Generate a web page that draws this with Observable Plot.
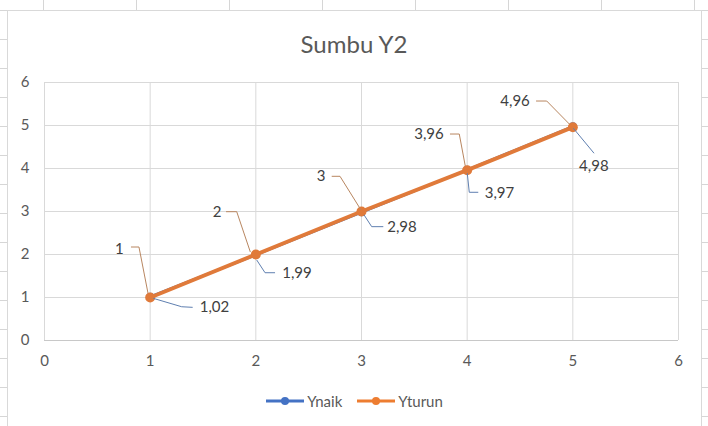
<!DOCTYPE html>
<html>
<head>
<meta charset="utf-8">
<script src="https://cdn.jsdelivr.net/npm/d3@7"></script>
<script src="https://cdn.jsdelivr.net/npm/@observablehq/plot@0.6"></script>
<style>
  html, body { margin: 0; padding: 0; }
  body {
    width: 708px; height: 426px; overflow: hidden; position: relative;
    background-color: #fff;
    background-image:
      linear-gradient(to right, #d6d6d6 1px, transparent 1px),
      linear-gradient(to bottom, #d6d6d6 1px, transparent 1px);
    background-size: 93px 29px;
    background-position: 43px 10px;
    font-family: Lato, "Open Sans", sans-serif;
    color: #595959;
  }
  #chartbox { position: absolute; left: 7px; top: 10px; width: 695px; height: 430px;
    background: #fff; border: 1px solid #d9d9d9; box-sizing: border-box; }
  #title { position: absolute; left: 0; top: 29px; width: 708px; text-align: center;
    font-size: 24px; line-height: 30px; color: #595959; }
  #plot { position: absolute; left: 0; top: 0; }
  #legend { position: absolute; left: 0; top: 391px; width: 708px; display: flex;
    justify-content: center; align-items: center; font-size: 15px; line-height: 20px; }
  .item { display: flex; align-items: center; margin: 0 7px; }
  .item svg { margin-right: 2px; }
</style>
</head>
<body>
<div id="chartbox"></div>
<div id="title"></div>
<div id="plot"></div>
<div id="legend"></div>
<script>
// ---- data ----
const chartTitle = "Sumbu Y2";
const seriesNames = ["Ynaik", "Yturun"];
const seriesColors = ["#4472C4", "#E07A3A"];
const xValues = [1, 2, 3, 4, 5];
const yNaik = [1.02, 1.99, 2.98, 3.97, 4.98];
const yTurun = [1, 2, 3, 3.96, 4.96];
const xTicks = [0, 1, 2, 3, 4, 5, 6];
const yTicks = [0, 1, 2, 3, 4, 5, 6];

// ---- label layout (pixel offsets from each point) ----
const naikTextOffset = [[49.6, 10.6, "start"], [26.4, 18.3, "start"], [25.7, 14.8, "start"], [17.6, 23, "start"], [21, 40, "middle"]];
const naikLeader = [
  [[3.6, 2.2], [32, 10.6], [43, 11.2]],
  [[1.4, 5.6], [9.7, 18.3], [19.7, 18.3]],
  [[3, 3], [10.7, 14.8], [22.3, 14.8]],
  [[0.6, 4], [2.6, 23], [11.6, 23]],
  [[1, 2.4], [21.7, 27.4]]
];
const turunTextOffset = [[-26.4, -48.7, "end"], [-34.3, -42.3, "end"], [-36, -35.3, "end"], [-23.4, -35.7, "end"], [-43, -26, "end"]];
const turunLeader = [
  [[-18.7, -50], [-10.7, -50], [-1.7, -4]],
  [[-29.3, -42.3], [-18.6, -42.3], [-5, -2]],
  [[-29.3, -34.7], [-21, -34.7], [0, -1]],
  [[-16.7, -35.7], [-7.4, -35.7], [-1.4, -3.7]],
  [[-36.3, -25.7], [-25.6, -25.7], [-3, -2.7]]
];

const fmt = v => String(v).replace(".", ",");
const naik = xValues.map((x, i) => ({x, y: yNaik[i], label: fmt(yNaik[i])}));
const turun = xValues.map((x, i) => ({x, y: yTurun[i], label: fmt(yTurun[i])}));

function leaders(data, paths, color) {
  return (index, scales) => {
    const g = d3.create("svg:g").attr("fill", "none").attr("stroke", color).attr("stroke-width", 1);
    data.forEach((d, i) => {
      const px = scales.x(d.x), py = scales.y(d.y);
      g.append("path").attr("d", d3.line()(paths[i].map(([a, b]) => [px + a, py + b])));
    });
    return g.node();
  };
}

function labels(data, offsets) {
  return data.map((d, i) => Plot.text([d], {
    x: "x", y: "y", text: "label",
    dx: offsets[i][0], dy: offsets[i][1], textAnchor: offsets[i][2],
    fill: "#404040", fontSize: 15
  }));
}

document.getElementById("title").textContent = chartTitle;

const chart = Plot.plot({
  width: 708, height: 426,
  marginLeft: 44, marginRight: 30, marginTop: 82, marginBottom: 86,
  style: {background: "transparent", fontSize: "15px", fontFamily: "Lato, 'Open Sans', sans-serif", color: "#595959", overflow: "visible"},
  x: {domain: [0, 6], ticks: xTicks, tickSize: 0, tickPadding: 15, label: null, tickFormat: d => String(d)},
  y: {domain: [0, 6], ticks: yTicks, tickSize: 0, tickPadding: 15, label: null, tickFormat: d => String(d)},
  marks: [
    Plot.ruleX(xTicks, {stroke: "#d9d9d9", strokeWidth: 1}),
    Plot.ruleY(yTicks.filter(v => v > 0), {stroke: "#d9d9d9", strokeWidth: 1}),
    Plot.ruleY([0], {stroke: "#c8c8c8", strokeWidth: 1}),
    Plot.line(naik, {x: "x", y: "y", stroke: seriesColors[0], strokeWidth: 2.5}),
    Plot.dot(naik, {x: "x", y: "y", r: 4, fill: seriesColors[0], stroke: "none"}),
    Plot.line(turun, {x: "x", y: "y", stroke: seriesColors[1], strokeWidth: 4}),
    Plot.dot(turun, {x: "x", y: "y", r: 5, fill: seriesColors[1], stroke: "none"}),
    leaders(naik, naikLeader, "#5f7fb0"),
    leaders(turun, turunLeader, "#b88660"),
    ...labels(naik, naikTextOffset),
    ...labels(turun, turunTextOffset)
  ]
});
document.getElementById("plot").appendChild(chart);

// legend
const legend = document.getElementById("legend");
const legendColors = ["#4472C4", "#ED7D31"];
seriesNames.forEach((name, i) => {
  const item = document.createElement("div");
  item.className = "item";
  const sw = d3.create("svg").attr("width", 40).attr("height", 12);
  sw.append("line").attr("x1", 1).attr("x2", 39).attr("y1", 6).attr("y2", 6)
    .attr("stroke", legendColors[i]).attr("stroke-width", 3);
  sw.append("circle").attr("cx", 20).attr("cy", 6).attr("r", 4).attr("fill", legendColors[i]);
  item.appendChild(sw.node());
  const t = document.createElement("span");
  t.textContent = name;
  item.appendChild(t);
  legend.appendChild(item);
});
</script>
</body>
</html>
